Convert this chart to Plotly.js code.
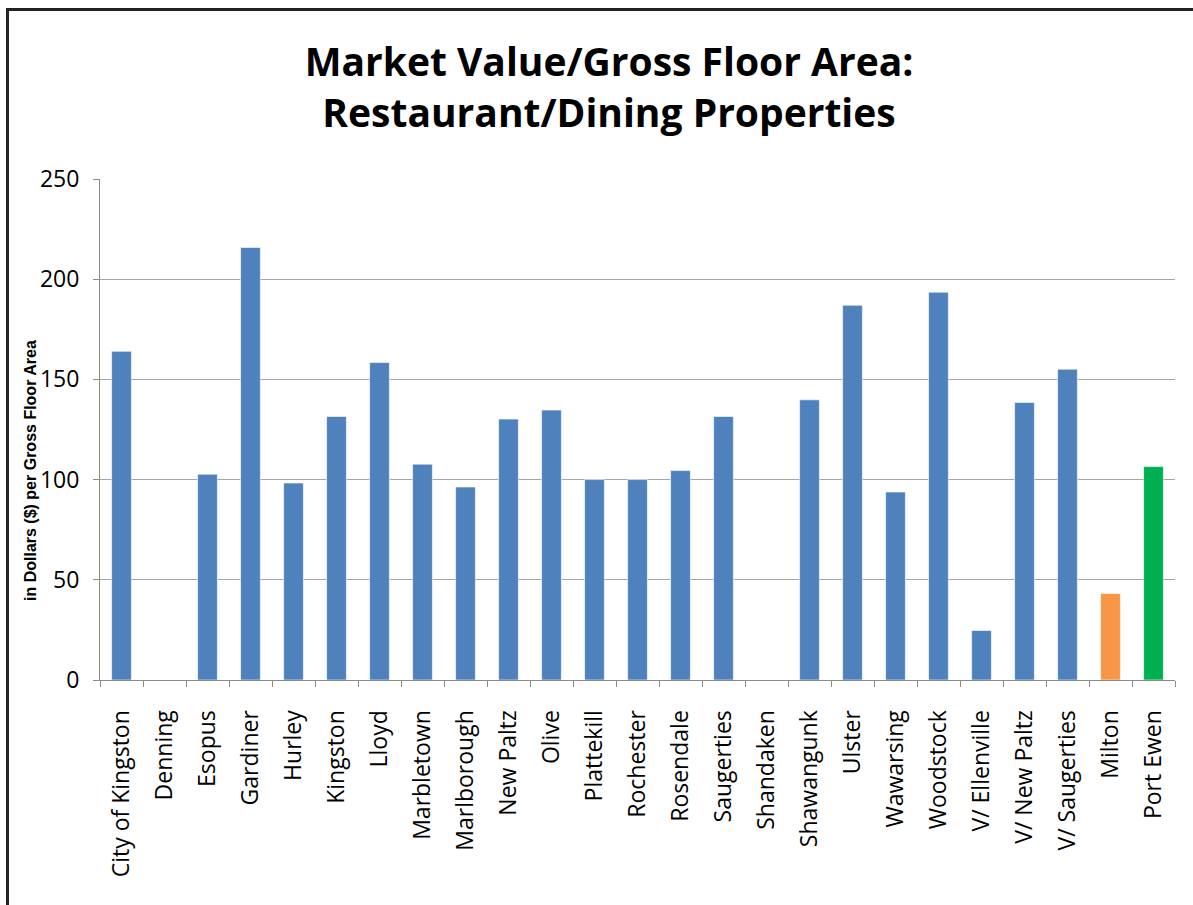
<!DOCTYPE html>
<html>
<head>
<meta charset="utf-8">
<script src="https://cdn.plot.ly/plotly-3.0.1.min.js"></script>
<style>
  html, body { margin: 0; padding: 0; background: #fff; }
  #chart { width: 1193px; height: 905px; position: relative; }
  #frame { position: absolute; left: 6px; top: 8px; width: 1200px; height: 910px;
           border-left: 3px solid #222; border-top: 3px solid #222; pointer-events: none; }
</style>
</head>
<body>
<div id="chart"></div>
<div id="frame"></div>
<script>
const categories = ["City of Kingston", "Denning", "Esopus", "Gardiner", "Hurley", "Kingston", "Lloyd",
  "Marbletown", "Marlborough", "New Paltz", "Olive", "Plattekill", "Rochester", "Rosendale",
  "Saugerties", "Shandaken", "Shawangunk", "Ulster", "Wawarsing", "Woodstock",
  "V/ Ellenville", "V/ New Paltz", "V/ Saugerties", "Milton", "Port Ewen"];
const values = [164, 0, 102.7, 215.8, 98.3, 131.5, 158.4,
  107.7, 96.3, 130.2, 134.7, 100, 100, 104.5,
  131.5, 0, 139.8, 187.0, 93.8, 193.5,
  24.7, 138.5, 155.1, 43.2, 106.5];
const barColors = ["#4F81BD", "#4F81BD", "#4F81BD", "#4F81BD", "#4F81BD", "#4F81BD", "#4F81BD",
  "#4F81BD", "#4F81BD", "#4F81BD", "#4F81BD", "#4F81BD", "#4F81BD", "#4F81BD",
  "#4F81BD", "#4F81BD", "#4F81BD", "#4F81BD", "#4F81BD", "#4F81BD",
  "#4F81BD", "#4F81BD", "#4F81BD", "#F79646", "#00B050"];
const yTicks = [0, 50, 100, 150, 200, 250];

const trace = {
  type: "bar",
  x: categories,
  y: values,
  marker: { color: barColors, line: { color: "rgba(255,255,255,0.6)", width: 1 } },
  hoverinfo: "x+y"
};

const layout = {
  width: 1193, height: 905,
  paper_bgcolor: "rgba(0,0,0,0)",
  plot_bgcolor: "#fff",
  margin: { l: 100, r: 18, t: 179, b: 225 },
  bargap: 0.54,
  showlegend: false,
  title: {
    text: "Market Value/Gross Floor Area:<br>Restaurant/Dining Properties",
    font: { family: "Open Sans, sans-serif", size: 39, color: "#000", weight: 700 },
    x: 0.5105, xanchor: "center", xref: "container",
    y: 0.916, yanchor: "top", yref: "container"
  },
  xaxis: {
    type: "category",
    tickangle: -90,
    tickson: "boundaries",
    ticks: "outside", ticklen: 6, tickcolor: "#8c8c8c", tickwidth: 1,
    ticklabelstandoff: 20,
    showline: true, linecolor: "#8c8c8c", linewidth: 1,
    showgrid: false,
    tickfont: { family: "Open Sans, sans-serif", size: 23, color: "#000" },
    automargin: false
  },
  yaxis: {
    range: [0, 250],
    tickvals: yTicks,
    ticktext: yTicks.map(String),
    ticks: "outside", ticklen: 6, tickcolor: "#8c8c8c", tickwidth: 1,
    ticklabelstandoff: 9,
    showline: true, linecolor: "#8c8c8c", linewidth: 1,
    showgrid: true, gridcolor: "#a6a6a6", gridwidth: 1,
    zeroline: false,
    tickfont: { family: "Open Sans, sans-serif", size: 23, color: "#000" },
    automargin: false
  },
  annotations: [{
    text: "in Dollars ($) per Gross Floor Area",
    textangle: -90,
    xref: "paper", yref: "paper",
    x: (30 - 100) / 1075, y: (680 - 471) / 501,
    xanchor: "center", yanchor: "middle",
    showarrow: false,
    font: { family: "Liberation Sans, Arial, sans-serif", size: 16, color: "#000", weight: 700 }
  }]
};

Plotly.newPlot("chart", [trace], layout, { displayModeBar: false, staticPlot: true });
</script>
</body>
</html>
